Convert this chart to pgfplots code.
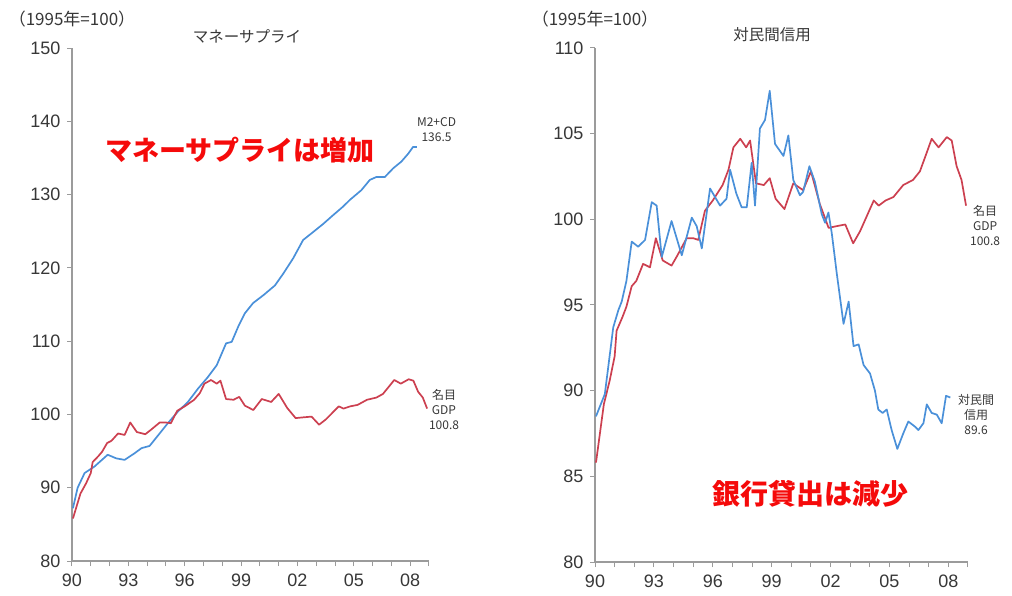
\documentclass[border=0pt]{standalone}
\usepackage{fontspec}
\setmainfont{Liberation Sans}
\newfontfamily\cjk{Noto Sans CJK JP}
\usepackage{pgfplots}
\usepackage{pgfplotstable}
\pgfplotsset{compat=1.18}
\definecolor{mblue}{RGB}{74,144,217}
\definecolor{mred}{RGB}{204,64,80}
\definecolor{axgray}{RGB}{155,155,155}
\definecolor{txt}{RGB}{55,55,55}
\definecolor{hot}{RGB}{245,10,10}

\pgfplotstableread{
x y
1990.05 85.8
1990.25 87.5
1990.45 89.2
1990.75 90.6
1991.0 92.0
1991.1 93.5
1991.4 94.3
1991.6 94.9
1991.87 96.1
1992.1 96.4
1992.45 97.4
1992.8 97.2
1993.1 98.9
1993.45 97.6
1993.9 97.3
1994.2 97.9
1994.67 98.9
1995.0 98.9
1995.26 98.8
1995.6 100.5
1996.0 101.1
1996.5 102.0
1996.8 102.9
1997.05 104.2
1997.4 104.7
1997.7 104.2
1997.9 104.6
1998.2 102.1
1998.6 102.0
1998.9 102.4
1999.2 101.2
1999.65 100.6
2000.1 102.1
2000.6 101.7
2001.0 102.8
2001.45 100.9
2001.9 99.5
2002.3 99.6
2002.75 99.7
2003.15 98.6
2003.5 99.3
2003.85 100.2
2004.2 101.1
2004.45 100.8
2004.8 101.1
2005.2 101.3
2005.7 102.0
2006.2 102.3
2006.55 102.8
2006.9 103.9
2007.15 104.7
2007.5 104.2
2007.92 104.8
2008.17 104.6
2008.42 103.1
2008.67 102.3
2008.9 100.8
}\gdp

\pgfplotstableread{
x y
1990.05 87.2
1990.3 90.0
1990.67 92.0
1991.2 92.9
1991.9 94.5
1992.36 94.0
1992.8 93.8
1993.33 94.7
1993.7 95.4
1994.13 95.7
1994.6 97.2
1995.1 98.8
1995.64 100.4
1996.17 101.7
1996.7 103.5
1997.2 105.0
1997.7 106.7
1998.05 108.8
1998.2 109.7
1998.5 109.9
1998.85 112.0
1999.2 113.8
1999.64 115.2
2000.2 116.3
2000.8 117.6
2001.24 119.2
2001.77 121.3
2002.3 123.8
2002.84 124.9
2003.37 126.0
2003.9 127.2
2004.4 128.3
2004.8 129.3
2005.4 130.6
2005.85 132.0
2006.2 132.4
2006.65 132.4
2007.1 133.6
2007.53 134.5
2007.9 135.6
2008.15 136.5
2008.35 136.5
}\money

\pgfplotstableread{
x y
1990.05 88.5
1990.5 89.8
1990.93 93.7
1991.19 94.7
1991.36 95.2
1991.6 96.4
1991.87 98.7
1992.2 98.4
1992.55 98.8
1992.89 101.0
1993.14 100.8
1993.4 97.8
1993.9 99.9
1994.42 97.9
1994.93 100.1
1995.18 99.6
1995.44 98.3
1995.86 101.8
1996.37 100.8
1996.7 101.2
1996.88 102.9
1997.2 101.5
1997.47 100.7
1997.73 100.7
1997.98 103.3
1998.15 100.8
1998.4 105.3
1998.66 105.8
1998.9 107.5
1999.17 104.4
1999.6 103.7
1999.85 104.9
2000.1 102.3
2000.44 101.4
2000.6 101.6
2000.92 103.1
2001.2 102.2
2001.55 100.3
2001.72 99.8
2001.89 100.4
2002.06 99.2
2002.32 96.8
2002.66 93.9
2002.92 95.2
2003.17 92.6
2003.43 92.7
2003.68 91.5
2004.01 91.0
2004.26 90.0
2004.43 88.9
2004.65 88.7
2004.86 88.9
2005.11 87.7
2005.4 86.6
2005.7 87.5
2005.96 88.2
2006.3 87.9
2006.47 87.7
2006.73 88.1
2006.9 89.2
2007.15 88.7
2007.41 88.6
2007.66 88.1
2007.88 89.7
2008.1 89.6
}\credit

\pgfplotsset{
  myaxis/.style={
    scale only axis, anchor=south west,
    axis x line*=bottom, axis y line*=left,
    axis line style={axgray, line width=1.3pt},
    xmin=1990, xmax=2009,
    xtick={1990,1993,1996,1999,2002,2005,2008},
    xticklabels={90,93,96,99,02,05,08},
    minor xtick={1990,...,2009},
    tick align=outside,
    major tick length=5pt, minor tick length=5pt,
    every tick/.style={axgray, line width=1pt},
    ticklabel style={font=\fontsize{18}{20}\selectfont, text=txt},
    xticklabel style={yshift=-4pt},
    yticklabel style={xshift=-3pt},
    /pgf/number format/assume math mode=true,
    clip=false,
  },
  gline/.style={mred, line width=1.7pt, line join=round},
  bline/.style={mblue, line width=1.7pt, line join=round},
}

\begin{document}
\begin{tikzpicture}
\useasboundingbox (0,0) rectangle (1012pt,595pt);

\begin{axis}[myaxis, at={(72pt,34pt)}, width=357pt, height=513pt,
  ymin=80, ymax=150, ytick={80,90,...,150}]
  \addplot[bline] table[x=x,y=y]{\money};
  \addplot[gline] table[x=x,y=y]{\gdp};
  \node[font=\cjk\fontsize{12}{15}\selectfont, text=txt, align=center]
    at (axis cs:2009.4,138.9) {M2+CD\\136.5};
  \node[font=\cjk\fontsize{12}{15}\selectfont, text=txt, align=center]
    at (axis cs:2009.8,100.7) {名目\\GDP\\100.8};
\end{axis}

\begin{axis}[myaxis, at={(595pt,33pt)}, width=373pt, height=514pt,
  ymin=80, ymax=110, ytick={80,85,...,110}]
  \addplot[gline] table[x=x,y=y]{\gdp};
  \addplot[bline] table[x=x,y=y]{\credit};
  \node[font=\cjk\fontsize{12}{15}\selectfont, text=txt, align=center]
    at (axis cs:2009.87,99.66) {名目\\GDP\\100.8};
  \node[font=\cjk\fontsize{12}{15}\selectfont, text=txt, align=center]
    at (axis cs:2009.41,88.58) {対民間\\信用\\89.6};
\end{axis}

\node[font=\cjk\fontsize{17}{19}\selectfont, text=txt] at (72pt,576pt) {（1995年=100）};
\node[font=\cjk\fontsize{15.5}{17}\selectfont, text=txt] at (247pt,559pt) {マネーサプライ};
\node[font=\cjk\fontsize{17}{19}\selectfont, text=txt] at (595pt,576pt) {（1995年=100）};
\node[font=\cjk\fontsize{15.5}{17}\selectfont, text=txt] at (772pt,560pt) {対民間信用};

\node[font=\cjk\bfseries\fontsize{27}{30}\selectfont, text=hot] at (240pt,445pt) {マネーサプライは増加};
\node[font=\cjk\bfseries\fontsize{28}{30}\selectfont, text=hot] at (810pt,101pt) {銀行貸出は減少};
\end{tikzpicture}
\end{document}
